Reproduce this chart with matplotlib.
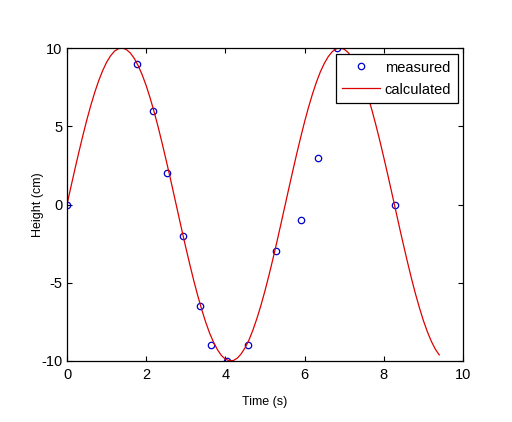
import matplotlib
matplotlib.use("Agg")
import matplotlib.pyplot as plt

# measured points
t_meas = [0.0, 1.78, 2.18, 2.53, 2.94, 3.36, 3.64, 4.04, 4.58, 5.28, 5.91, 6.35, 6.83, 8.29]
h_meas = [0, 9, 6, 2, -2, -6.5, -9, -10, -9, -3, -1, 3, 10, 0]

# calculated curve, read every 0.1 s
t_calc = [0.0, 0.1, 0.2, 0.3, 0.4, 0.5, 0.6, 0.7, 0.8, 0.9,
          1.0, 1.1, 1.2, 1.3, 1.4, 1.5, 1.6, 1.7, 1.8, 1.9,
          2.0, 2.1, 2.2, 2.3, 2.4, 2.5, 2.6, 2.7, 2.8, 2.9,
          3.0, 3.1, 3.2, 3.3, 3.4, 3.5, 3.6, 3.7, 3.8, 3.9,
          4.0, 4.1, 4.2, 4.3, 4.4, 4.5, 4.6, 4.7, 4.8, 4.9,
          5.0, 5.1, 5.2, 5.3, 5.4, 5.5, 5.6, 5.7, 5.8, 5.9,
          6.0, 6.1, 6.2, 6.3, 6.4, 6.5, 6.6, 6.7, 6.8, 6.9,
          7.0, 7.1, 7.2, 7.3, 7.4, 7.5, 7.6, 7.7, 7.8, 7.9,
          8.0, 8.1, 8.2, 8.3, 8.4, 8.5, 8.6, 8.7, 8.8, 8.9,
          9.0, 9.1, 9.2, 9.3, 9.4]
h_calc = [0.0, 1.14, 2.26, 3.35, 4.40, 5.40, 6.32, 7.16, 7.91, 8.55,
          9.09, 9.50, 9.80, 9.96, 10.0, 9.90, 9.68, 9.33, 8.86, 8.28,
          7.59, 6.80, 5.92, 4.97, 3.94, 2.87, 1.77, 0.64, -0.50, -1.64,
          -2.75, -3.82, -4.85, -5.81, -6.70, -7.50, -8.21, -8.80, -9.28, -9.65,
          -9.88, -9.99, -9.97, -9.82, -9.54, -9.14, -8.63, -7.99, -7.25, -6.42,
          -5.51, -4.52, -3.48, -2.39, -1.27, -0.13, 1.01, 2.13, 3.23, 4.28,
          5.29, 6.22, 7.07, 7.83, 8.49, 9.03, 9.46, 9.77, 9.95, 10.0,
          9.92, 9.71, 9.38, 8.93, 8.36, 7.67, 6.90, 6.03, 5.08, 4.07,
          3.00, 1.90, 0.77, -0.37, -1.51, -2.62, -3.70, -4.74, -5.71, -6.60,
          -7.42, -8.13, -8.74, -9.24, -9.61]

x_ticks = [0, 2, 4, 6, 8, 10]
y_ticks = [-10, -5, 0, 5, 10]

plt.rcParams['font.family'] = ['Liberation Sans', 'DejaVu Sans']
plt.rcParams['axes.unicode_minus'] = False

fig = plt.figure(figsize=(5.12, 4.22), dpi=100)
ax = fig.add_axes([67 / 512, 1 - 361 / 422, 396 / 512, 313 / 422])

ax.plot(t_meas, h_meas, 'o', mfc='none', mec='#0000cc', ms=4.6, mew=0.9, label='measured')
ax.plot(t_calc, h_calc, '-', color='#dd0000', lw=0.9, label='calculated')

ax.set_xlim(0, 10)
ax.set_ylim(-10, 10)
ax.set_xticks(x_ticks)
ax.set_yticks(y_ticks)
ax.tick_params(direction='in', length=3.5, width=0.8, top=True, right=True, labelsize=10.5)
ax.tick_params(axis='x', pad=5)
for s in ax.spines.values():
    s.set_linewidth(0.9)

ax.set_xlabel('Time (s)', fontsize=9, labelpad=10)
ax.set_ylabel('Height (cm)', fontsize=9, labelpad=-2)

leg = ax.legend(loc='upper right', bbox_to_anchor=(0.987, 0.981), borderaxespad=0,
                fontsize=10.5, fancybox=False, framealpha=1, edgecolor='black',
                handlelength=2.6, handletextpad=0.3, borderpad=0.45, labelspacing=0.55)
leg.get_frame().set_linewidth(0.9)

fig.savefig('out.png', dpi=100)
